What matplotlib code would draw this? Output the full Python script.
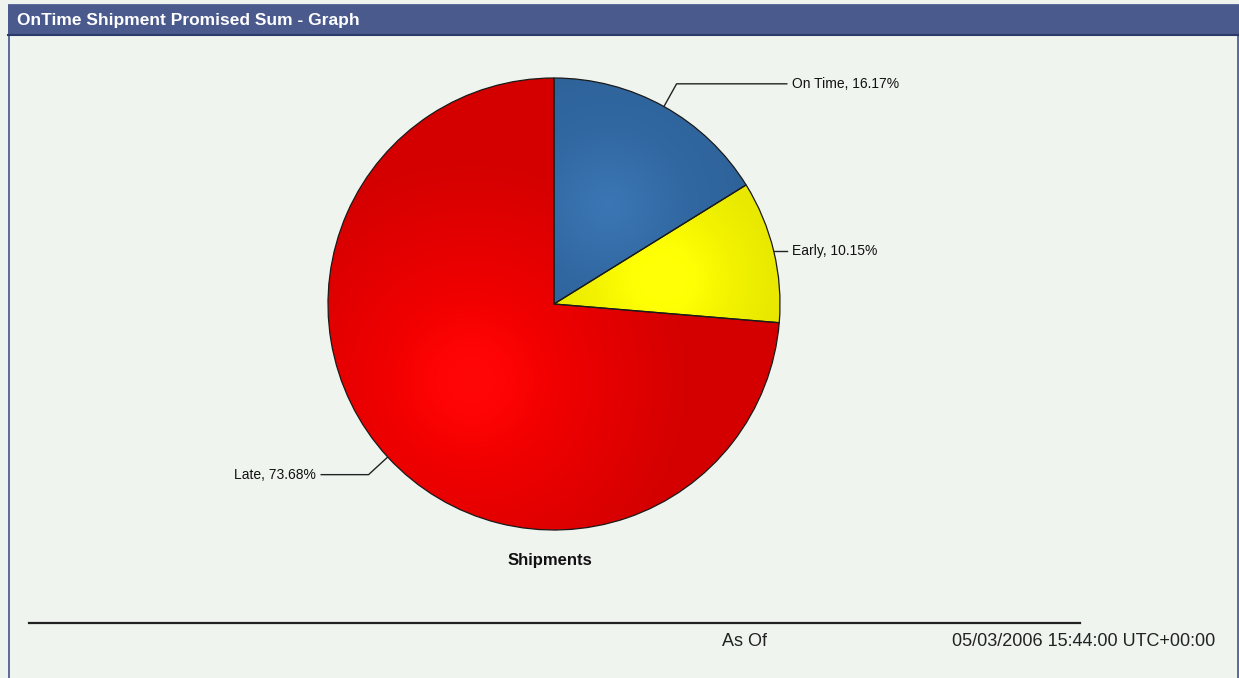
import numpy as np
import matplotlib
matplotlib.use("Agg")
import matplotlib.pyplot as plt
from matplotlib.patches import Rectangle
from matplotlib.colors import to_rgb

# ---- data ----
labels = ["On Time", "Early", "Late"]
values = [16.17, 10.15, 73.68]
colors = ["#3168a2", "#f0f000", "#f20000"]
title = "OnTime Shipment Promised Sum - Graph"
pie_title = "Shipments"
as_of_label = "As Of"
as_of_value = "05/03/2006 15:44:00 UTC+00:00"

W, H = 1239, 678
FONT = ["Liberation Sans", "DejaVu Sans"]

fig = plt.figure(figsize=(W / 100, H / 100), dpi=100)
fig.patch.set_facecolor("#eef3ee")
ax = fig.add_axes([0, 0, 1, 1])


def Y(py):
    # pixel row -> axes y
    return H - py


# panel + title bar
ax.add_patch(Rectangle((8.5, Y(680)), W - 10, 680 - 5, facecolor="#eff4ef",
                       edgecolor="#5a6a9a", linewidth=1.4, zorder=0))
ax.add_patch(Rectangle((8, Y(36)), W - 8, 31, facecolor="#4a5a8d",
                       edgecolor="none", zorder=1))
ax.plot([8, W], [Y(35), Y(35)], color="#2c3a6a", linewidth=1.5, zorder=2)
ax.text(17, Y(20), title, color="white", fontsize=12.5, fontweight="bold",
        family=FONT, va="center", ha="left", zorder=3)

# pie
cx, cy, r = 554, Y(304), 226
wedges, _ = ax.pie(values, colors=colors, startangle=90, counterclock=False,
                   center=(cx, cy), radius=r,
                   wedgeprops=dict(edgecolor="#1a1a1a", linewidth=0.9))

# soft radial shading inside each wedge
gx, gy = np.meshgrid(np.linspace(cx - r, cx + r, 300), np.linspace(cy - r, cy + r, 300))
for w, col in zip(wedges, colors):
    mid = np.deg2rad((w.theta1 + w.theta2) / 2)
    hx, hy = cx + 0.5 * r * np.cos(mid), cy + 0.5 * r * np.sin(mid)
    d = np.sqrt((gx - hx) ** 2 + (gy - hy) ** 2) / r
    shade = np.clip(1.07 - 0.2 * d, 0.88, 1.07)[..., None]
    base = np.array(to_rgb(col))
    img = np.clip(base * shade + (shade > 1) * (shade - 1) * 0.4, 0, 1)
    im = ax.imshow(img, extent=(cx - r, cx + r, cy - r, cy + r), origin="lower",
                   zorder=w.get_zorder() + 0.1, interpolation="bilinear")
    im.set_clip_path(w)
    w.set_facecolor("none")
    w.set_zorder(w.get_zorder() + 0.2)

# leader lines and labels
line_end = 1.03 * r
for w, lab, val in zip(wedges, labels, values):
    mid = np.deg2rad((w.theta1 + w.theta2) / 2)
    ex, ey = cx + r * np.cos(mid), cy + r * np.sin(mid)
    bx, by = cx + (r + 26) * np.cos(mid), cy + (r + 26) * np.sin(mid)
    side = 1 if np.cos(mid) >= 0 else -1
    if abs(bx - cx) > line_end:
        bx, by = ex, ey
    tx = cx + side * line_end
    ax.plot([ex, bx, tx], [ey, by, by], color="#222222", linewidth=1.0, zorder=5)
    ax.text(tx + side * 5, by, f"{lab}, {val:.2f}%", fontsize=10, family=FONT,
            ha="left" if side > 0 else "right", va="center", color="#111111", zorder=5)

ax.text(550, Y(561), pie_title, fontsize=12, fontweight="bold", family=FONT,
        ha="center", va="center", color="#111111")

# footer
ax.plot([29, 1080], [Y(623), Y(623)], color="#222222", linewidth=1.6)
ax.text(722, Y(641), as_of_label, fontsize=13, family=FONT, ha="left",
        va="center", color="#222222")
ax.text(1215, Y(641), as_of_value, fontsize=13, family=FONT, ha="right",
        va="center", color="#222222")

ax.set_xlim(0, W)
ax.set_ylim(0, H)
ax.set_aspect("auto")
ax.axis("off")

fig.savefig("out.png", dpi=100, facecolor=fig.get_facecolor())
